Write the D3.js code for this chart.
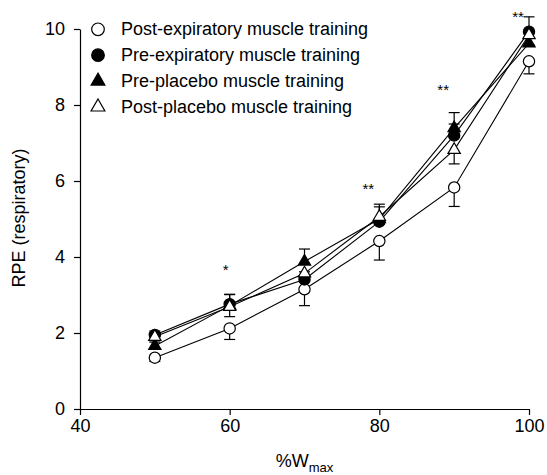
<!DOCTYPE html>
<html>
<head>
<meta charset="utf-8">
<script src="https://cdn.jsdelivr.net/npm/d3@7"></script>
<style>
  body { margin: 0; background: #fff; }
  svg { font-family: "Liberation Sans", Arial, sans-serif; }
</style>
</head>
<body>
<svg width="547" height="475"></svg>
<script>
const workloads = [50, 60, 70, 80, 90, 100];

const postEmt = [1.35, 2.12, 3.15, 4.42, 5.83, 9.15];
const postEmtErr = [0.1, 0.29, 0.43, 0.5, 0.5, 0.33];
const preEmt = [1.95, 2.76, 3.41, 4.93, 7.2, 9.93];
const preEmtErr = [0.1, 0.25, 0.2, 0.39, 0.3, 0.39];
const prePlacebo = [1.66, 2.72, 3.88, 5.0, 7.39, 9.62];
const prePlaceboErr = [0.1, 0.3, 0.33, 0.39, 0.41, 0.3];
const postPlacebo = [1.9, 2.69, 3.57, 5.06, 6.82, 9.84];
const postPlaceboErr = [0.1, 0.26, 0.2, 0.2, 0.37, 0.25];

const seriesNames = ['Post-expiratory muscle training', 'Pre-expiratory muscle training',
  'Pre-placebo muscle training', 'Post-placebo muscle training'];

const starX = [60, 80, 90, 100];
const starY = [3.74, 5.87, 8.5, 10.4];
const starLabels = ['*', '**', '**', '**'];

const xTicks = [40, 60, 80, 100];
const yTicks = [0, 2, 4, 6, 8, 10];

// series table: symbol, fill and which way the error bar points
const series = [
  {name: seriesNames[0], values: postEmt, err: postEmtErr, dir: -1, shape: d3.symbolCircle, fill: '#fff'},
  {name: seriesNames[1], values: preEmt, err: preEmtErr, dir: 1, shape: d3.symbolCircle, fill: '#000'},
  {name: seriesNames[2], values: prePlacebo, err: prePlaceboErr, dir: 1, shape: d3.symbolTriangle, fill: '#000'},
  {name: seriesNames[3], values: postPlacebo, err: postPlaceboErr, dir: -1, shape: d3.symbolTriangle, fill: '#fff'}
];

const x = d3.scaleLinear().domain([40, 100]).range([80, 529]);
const y = d3.scaleLinear().domain([0, 10]).range([409, 29]);

const svg = d3.select('svg');
const symbolSize = s => s === d3.symbolCircle ? 100 : 66;

// axes
const xAxis = svg.append('g')
  .attr('transform', `translate(0,${y(0)})`)
  .call(d3.axisBottom(x).tickValues(xTicks).tickSize(6).tickSizeOuter(0).tickPadding(4));
const yAxis = svg.append('g')
  .attr('transform', `translate(${x(40)},0)`)
  .call(d3.axisLeft(y).tickValues(yTicks).tickSize(6).tickSizeOuter(0).tickPadding(9));
[xAxis, yAxis].forEach(a => {
  a.selectAll('path, line').attr('stroke', '#000').attr('stroke-width', 1.2);
  a.selectAll('text').attr('font-size', 18).attr('fill', '#000')
    .attr('font-family', '"Liberation Sans", Arial, sans-serif');
});

// axis titles
svg.append('text')
  .attr('transform', `translate(25,218) rotate(-90)`)
  .attr('text-anchor', 'middle')
  .attr('font-size', 18)
  .text('RPE (respiratory)');

const xTitle = svg.append('text')
  .attr('x', (x(40) + x(100)) / 2)
  .attr('y', 467)
  .attr('text-anchor', 'middle')
  .attr('font-size', 18);
xTitle.append('tspan').text('%W');
xTitle.append('tspan').attr('font-size', 13).attr('dy', 5).text('max');

const line = d3.line().x((d, i) => x(workloads[i])).y(d => y(d));

// lines first
svg.append('g').selectAll('path')
  .data(series)
  .enter()
  .append('path')
  .attr('d', s => line(s.values))
  .attr('fill', 'none')
  .attr('stroke', '#000')
  .attr('stroke-width', 1.1);

// error bars and markers per series
series.forEach(s => {
  const g = svg.append('g');
  const bars = g.selectAll('.err')
    .data(s.values.map((v, i) => ({x: workloads[i], v: v, e: v + s.dir * s.err[i]})))
    .enter()
    .append('g')
    .classed('err', true);
  bars.append('line')
    .attr('x1', d => x(d.x)).attr('x2', d => x(d.x))
    .attr('y1', d => y(d.v)).attr('y2', d => y(d.e));
  bars.append('line')
    .attr('x1', d => x(d.x) - 5.5).attr('x2', d => x(d.x) + 5.5)
    .attr('y1', d => y(d.e)).attr('y2', d => y(d.e));
  bars.selectAll('line').attr('stroke', '#000').attr('stroke-width', 1.2);

  g.selectAll('.pt')
    .data(s.values)
    .enter()
    .append('path')
    .classed('pt', true)
    .attr('d', d3.symbol().type(s.shape).size(symbolSize(s.shape)))
    .attr('transform', (d, i) => `translate(${x(workloads[i])},${y(d)})`)
    .attr('fill', s.fill)
    .attr('stroke', '#000')
    .attr('stroke-width', 1.2);
});

// significance stars
svg.append('g').selectAll('text')
  .data(starLabels)
  .enter()
  .append('text')
  .attr('x', (d, i) => x(starX[i]) + (d.length > 1 ? -11 : -4))
  .attr('y', (d, i) => y(starY[i]) + 8.5)
  .attr('text-anchor', 'middle')
  .attr('font-size', 15)
  .text(d => d);

// legend
const legend = svg.append('g').selectAll('g')
  .data(series)
  .enter()
  .append('g')
  .attr('transform', (d, i) => `translate(98,${29.3 + i * 25.9})`);
legend.append('path')
  .attr('d', s => d3.symbol().type(s.shape).size(symbolSize(s.shape) * 1.25)())
  .attr('fill', s => s.fill)
  .attr('stroke', '#000')
  .attr('stroke-width', 1.2);
legend.append('text')
  .attr('x', 23)
  .attr('y', 6)
  .attr('font-size', 18)
  .text(s => s.name);
</script>
</body>
</html>
